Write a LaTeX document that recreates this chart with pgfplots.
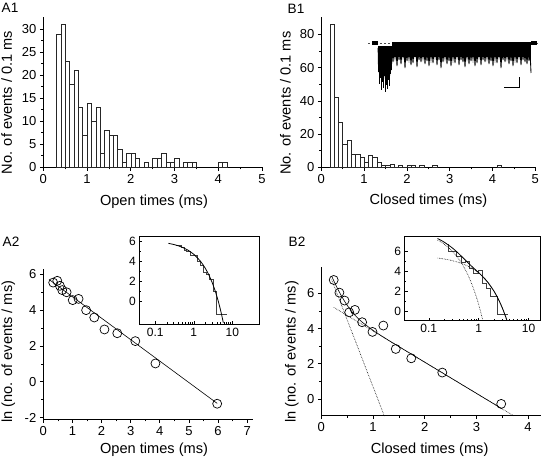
\documentclass[border=0pt]{standalone}
\usepackage{fontspec}
\setmainfont{Liberation Sans}
\usepackage{pgfplots}
\usepackage{pgfplotstable}
\pgfplotsset{compat=1.18}

\pgfplotstableread{
x y
0.3 29
0.4 31
0.5 23
0.6 18
0.7 21
0.8 13
0.9 7
1.0 14
1.1 10
1.2 13
1.3 3
1.4 8
1.5 7
1.6 7
1.7 4
1.8 1
1.9 3
2.0 3
2.1 2
2.2 0
2.3 1
2.4 0
2.5 2
2.6 2
2.7 3
2.8 1
2.9 1
3.0 2
3.1 0
3.2 1
3.3 1
3.4 1
3.5 0
}\histAa
\pgfplotstableread{
x y
4.0 1
4.1 1
4.2 0
}\histAb
\pgfplotstableread{
x y
0.2 86
0.3 42
0.4 27
0.5 14
0.6 16
0.7 8
0.8 8
0.9 6
1.0 3
1.1 7
1.2 6
1.3 3
1.4 1
1.5 1
1.6 2
1.7 0
1.8 1
1.9 0
2.0 1
2.1 1
2.2 0
2.3 1
2.4 0
}\histBa
\pgfplotstableread{
x y
2.6 1
2.7 0
}\histBb
\pgfplotstableread{
x y
4.1 1
4.2 0
}\histBc
\pgfplotstableread{
x y
0.34 5.54
0.48 5.64
0.57 5.36
0.65 5.12
0.80 5.00
1.01 4.56
1.21 4.63
1.47 4.00
1.75 3.59
2.10 2.92
2.54 2.71
3.16 2.27
3.85 1.02
5.97 -1.23
}\ptsA
\pgfplotstableread{
x y
0.24 6.76
0.35 6.04
0.45 5.59
0.54 4.92
0.65 5.06
0.79 4.36
0.99 3.81
1.20 4.17
1.44 2.84
1.74 2.31
2.34 1.50
3.48 -0.28
}\ptsB

\pgfplotsset{
  mainax/.style={scale only axis, anchor=south west, axis lines=left,
    axis line style={-, line width=0.6pt},
    tick align=outside, major tick length=3.5pt, minor tick length=2pt,
    tick style={line width=0.6pt, black},
    /pgf/number format/assume math mode=true,
    ticklabel style={font=\fontsize{13}{15}\selectfont},
    label style={font=\fontsize{14.6}{17}\selectfont},
    minor x tick num=1, minor y tick num=1, clip=false},
  inax/.style={scale only axis, anchor=south west,
    axis line style={line width=0.6pt},
    tick align=inside, xtick pos=bottom, ytick pos=left,
    major tick length=3pt, minor tick length=1.8pt,
    tick style={line width=0.5pt, black},
    /pgf/number format/assume math mode=true,
    ticklabel style={font=\fontsize{12}{14}\selectfont},
    xtick={0.1,1,10}, xticklabels={0.1,1,10},
    ytick={0,2,4,6}, minor y tick num=1, axis background/.style={fill=white}},
  hist/.style={ybar interval, fill=white, draw=black!85, line width=0.5pt},
  circ/.style={only marks, mark=o, mark size=4.5pt, mark options={fill=white, draw=black, line width=0.7pt}}
}

\begin{document}
\begin{tikzpicture}[x=1pt,y=1pt]
\path[use as bounding box] (0,0) rectangle (544,462);

% A1
\begin{axis}[mainax, at={(43.3pt,294.7pt)}, width=218.7pt, height=150pt,
  xmin=0, xmax=5, ymin=0, ymax=32.6,
  xtick={0,1,2,3,4,5}, ytick={0,5,10,15,20,25,30},
  xlabel={Open times (ms)}, ylabel={No. of events / 0.1 ms},
  xlabel style={at={(axis description cs:0.506,-0.229)}, anchor=center},
  ylabel style={at={(axis description cs:-0.167,0.432)}, anchor=center}]
\addplot[hist] table[x=x,y=y] {\histAa};
\addplot[hist] table[x=x,y=y] {\histAb};
\end{axis}

% B1
\begin{axis}[mainax, at={(321.3pt,294.7pt)}, width=214pt, height=150.6pt,
  xmin=0, xmax=5, ymin=0, ymax=90.7,
  xtick={0,1,2,3,4,5}, ytick={0,20,40,60,80},
  xlabel={Closed times (ms)}, ylabel={No. of events / 0.1 ms},
  xlabel style={at={(axis description cs:0.501,-0.224)}, anchor=center},
  ylabel style={at={(axis description cs:-0.168,0.425)}, anchor=center}]
\addplot[hist] table[x=x,y=y] {\histBa};
\addplot[hist] table[x=x,y=y] {\histBb};
\addplot[hist] table[x=x,y=y] {\histBc};
\end{axis}

% A2
\begin{axis}[mainax, at={(43.3pt,42.7pt)}, width=209.7pt, height=150.3pt,
  xmin=0, xmax=7.2, ymin=-2.1, ymax=6.3,
  xtick={0,1,2,3,4,5,6,7}, ytick={-2,0,2,4,6},
  xlabel={Open times (ms)}, ylabel={ln (no. of events / ms)},
  xlabel style={at={(axis description cs:0.528,-0.204)}, anchor=center},
  ylabel style={at={(axis description cs:-0.167,0.45)}, anchor=center}]
\addplot[black, line width=0.6pt] coordinates {(0.2,5.71) (5.97,-1.21)};
\addplot[circ] table[x=x,y=y] {\ptsA};
\end{axis}

% A2 inset
\begin{axis}[xmode=log, inax, at={(139.3pt,137.7pt)}, width=119.7pt, height=88.3pt,
  xmin=0.0384, xmax=49.4, ymin=-2.24, ymax=6.52]
\addplot[black!75, line width=0.5pt, const plot mark right] coordinates {
(0.34,5.54) (0.48,5.64) (0.57,5.36) (0.65,5.12) (0.80,5.00) (1.01,4.56)
(1.21,4.63) (1.47,4.00) (1.75,3.59) (2.10,2.92) (2.54,2.71) (3.16,2.27)
(3.85,1.02) (5.97,-1.23) (7.1,-1.23)};
\addplot[black, line width=0.8pt, smooth] coordinates {
(0.22,5.79) (0.3,5.68) (0.4,5.54) (0.5,5.40) (0.7,5.12) (1,4.70) (1.5,4.00)
(2,3.30) (2.5,2.60) (3,1.90) (3.5,1.20) (4,0.50) (4.5,-0.20) (5,-0.90)
(5.5,-1.60) (5.85,-2.09)};
\end{axis}

% B2
\begin{axis}[mainax, at={(321.3pt,46.3pt)}, width=219.2pt, height=148.4pt,
  xmin=0, xmax=4.24, ymin=-0.95, ymax=7.48,
  xtick={0,1,2,3,4}, ytick={0,2,4,6},
  xlabel={Closed times (ms)}, ylabel={ln (no. of events / ms)},
  xlabel style={at={(axis description cs:0.494,-0.231)}, anchor=center},
  ylabel style={at={(axis description cs:-0.134,0.431)}, anchor=center}]
\addplot[black, line width=0.6pt, densely dotted] coordinates {(0.24,5.205) (3.72,-0.954)};
\addplot[black, line width=0.6pt, densely dotted] coordinates {(0.2,6.78) (1.22,-0.972)};
\addplot[black, line width=0.6pt, smooth] coordinates {
(0.2,6.98) (0.3,6.355) (0.4,5.798) (0.5,5.323) (0.6,4.930) (0.7,4.609)
(0.8,4.342) (1.0,3.902) (1.2,3.519) (1.5,2.977) (3.5,-0.565)};
\addplot[circ] table[x=x,y=y] {\ptsB};
\end{axis}

% B2 inset
\begin{axis}[xmode=log, inax, at={(404.7pt,141.3pt)}, width=135.6pt, height=84.7pt,
  xmin=0.033, xmax=17.1, ymin=-0.9, ymax=7.57]
\addplot[black!75, line width=0.5pt, const plot mark right] coordinates {
(0.24,6.76) (0.35,6.04) (0.45,5.59) (0.54,4.92) (0.65,5.06) (0.79,4.36)
(0.99,3.81) (1.20,4.17) (1.44,2.84) (1.74,2.31) (2.34,1.50) (3.48,-0.28) (3.9,-0.28)};
\addplot[black, line width=0.6pt, densely dotted, smooth] coordinates {
(0.15,5.365) (0.2,5.276) (0.3,5.099) (0.4,4.922) (0.5,4.745) (0.6,4.568)
(0.8,4.214) (1.0,3.86) (1.2,3.506) (1.5,2.975) (2.0,2.09) (2.5,1.205)
(3.0,0.32) (3.5,-0.565) (3.7,-0.919)};
\addplot[black, line width=0.6pt, densely dotted, smooth] coordinates {
(0.15,7.16) (0.2,6.78) (0.3,6.02) (0.4,5.26) (0.5,4.5) (0.6,3.74) (0.7,2.98)
(0.8,2.22) (0.9,1.46) (1.0,0.7) (1.1,-0.06) (1.22,-0.972)};
\addplot[black, line width=0.8pt, smooth] coordinates {
(0.15,7.314) (0.2,6.98) (0.3,6.355) (0.4,5.798) (0.5,5.323) (0.6,4.930)
(0.7,4.609) (0.8,4.342) (1.0,3.902) (1.2,3.519) (1.5,2.977) (2.0,2.09)
(2.5,1.205) (3.0,0.32) (3.5,-0.565) (3.7,-0.919)};
\end{axis}

% B1 inset trace (pixel coordinates)
\begin{axis}[scale only axis, anchor=south west, at={(0pt,0pt)}, width=544pt, height=462pt,
  xmin=0, xmax=544, ymin=0, ymax=462, y dir=reverse, hide axis, clip=false]
\addplot[black!70, dash pattern=on 2pt off 2pt, line width=0.6pt] coordinates {(368,43.3) (538,43.3)};
\addplot[fill=black, draw=none] coordinates {(392,42.5) (531,42.5) (531,57) (392,57)} -- cycle;
\addplot[fill=black, draw=none] coordinates {(378,46) (392,46) (392,68) (378,68)} -- cycle;
\addplot[black, line width=0.85pt] coordinates {
(392,50) (393,62) (394,50) (395,58) (396,50) (397,66) (398,50) (399,60) (400,50) (401,64)
(402,50) (403,57) (404,50) (405,68) (406,50) (407,61) (408,50) (409,59) (410,50) (411,65)
(412,50) (413,63) (414,50) (415,56) (416,50) (417,67) (418,50) (419,60) (420,50) (421,62)
(422,50) (423,58) (424,50) (425,64) (426,50) (427,61) (428,50) (429,66) (430,50) (431,59)
(432,50) (433,63) (434,50) (435,57) (436,50) (437,65) (438,50) (439,60) (440,50) (441,68)
(442,50) (443,62) (444,50) (445,58) (446,50) (447,64) (448,50) (449,61) (450,50) (451,66)
(452,50) (453,59) (454,50) (455,63) (456,50) (457,57) (458,50) (459,65) (460,50) (461,60)
(462,50) (463,62) (464,50) (465,67) (466,50) (467,58) (468,50) (469,64) (470,50) (471,61)
(472,50) (473,59) (474,50) (475,66) (476,50) (477,63) (478,50) (479,57) (480,50) (481,65)
(482,50) (483,60) (484,50) (485,62) (486,50) (487,58) (488,50) (489,64) (490,50) (491,61)
(492,50) (493,66) (494,50) (495,59) (496,50) (497,63) (498,50) (499,57) (500,50) (501,68)
(502,50) (503,60) (504,50) (505,62) (506,50) (507,58) (508,50) (509,64) (510,50) (511,61)
(512,50) (513,66) (514,50) (515,59) (516,50) (517,63) (518,50) (519,57) (520,50) (521,65)
(522,50) (523,60) (524,50) (525,62) (526,50) (527,64) (528,50) (529,61) (530,50) (531,73)};
\addplot[black, line width=0.7pt] coordinates {
(378,48) (378.5,72) (379,50) (379.5,84) (380,48) (380.5,78) (381,52) (381.5,90)
(382,49) (382.5,82) (383,51) (383.5,88) (384,48) (384.5,76) (385,50) (385.5,92)
(386,49) (386.5,85) (387,52) (387.5,89) (388,48) (388.5,80) (389,50) (389.5,86)
(390,49) (390.5,74) (391,51) (391.5,70) (392,48)};
\addplot[fill=black, draw=none] coordinates {(372,41) (378,41) (378,45.5) (372,45.5)} -- cycle;
\addplot[fill=black, draw=none] coordinates {(531,41) (537,41) (537,45.5) (531,45.5)} -- cycle;
\addplot[black, line width=0.8pt] coordinates {(504.3,87.3) (519,87.3) (519,76.7)};
\end{axis}

\node[font=\fontsize{13.6}{16}\selectfont] at (10,454) {A1};
\node[font=\fontsize{13.6}{16}\selectfont] at (296,453) {B1};
\node[font=\fontsize{13.6}{16}\selectfont] at (11,220) {A2};
\node[font=\fontsize{13.6}{16}\selectfont] at (297,220) {B2};
\end{tikzpicture}
\end{document}
